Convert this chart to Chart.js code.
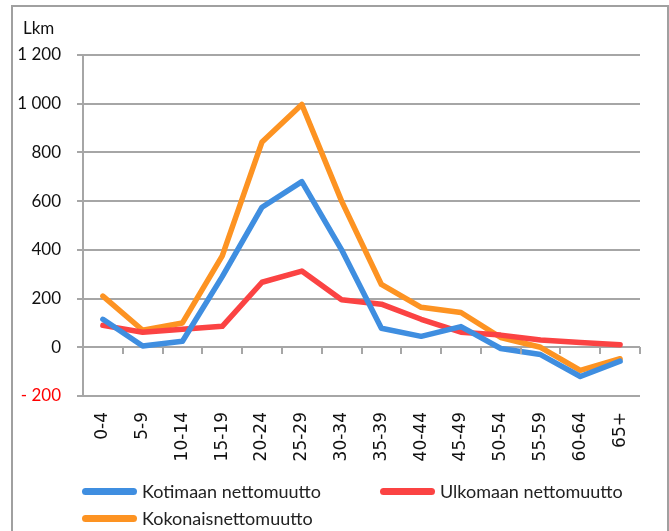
<!DOCTYPE html>
<html>
<head>
<meta charset="utf-8">
<script src="https://cdn.jsdelivr.net/npm/chart.js@4.4.1/dist/chart.umd.min.js"></script>
<style>
  html, body { margin: 0; padding: 0; background: #fff; }
  #wrap { position: relative; width: 669px; height: 531px; overflow: hidden; font-family: Lato, sans-serif; }
  #frame { position: absolute; left: 11px; top: 5px; width: 654px; height: 560px; border: 2px solid #a0a0a0; pointer-events: none; }
  #unit { position: absolute; left: 23px; top: 17px; font-size: 17px; color: #111; }
  .leg { position: absolute; font-size: 18px; color: #222; white-space: nowrap; }
  .leg span.sw { position: absolute; left: 0; top: 8px; width: 55px; height: 7px; border-radius: 4px; }
  .leg span.tx { position: absolute; left: 60px; top: 0; line-height: 22px; }
</style>
</head>
<body>
<div id="wrap">
  <canvas id="chart"></canvas>
  <div id="frame"></div>
  <div id="unit">Lkm</div>
</div>
<script>
// age groups on the x axis
const AGE_GROUPS = ['0-4', '5-9', '10-14', '15-19', '20-24', '25-29', '30-34',
  '35-39', '40-44', '45-49', '50-54', '55-59', '60-64', '65+'];

// net migration by age group (persons)
const KOTIMAAN = [115, 5, 25, 290, 575, 680, 400, 78, 45, 85, -5, -30, -120, -57];
const ULKOMAAN = [90, 62, 74, 86, 267, 313, 195, 177, 115, 62, 50, 30, 20, 10];
const KOKONAIS = [210, 70, 100, 375, 843, 997, 600, 258, 164, 143, 40, 0, -95, -47];

const Y_MIN = -200;
const Y_MAX = 1200;
const Y_STEP = 200;

const GRID = '#a6a6a6';

function fmtTick(v) {
  var s = String(Math.abs(v)).replace(/\B(?=(\d{3})+(?!\d))/g, ' ');
  return v < 0 ? '- ' + s : s;
}

// tick marks on the zero line, between categories (excel style)
const zeroTicks = {
  id: 'zeroTicks',
  afterDatasetsDraw: function (chart) {
    var x = chart.scales.x, y = chart.scales.y;
    var y0 = Math.round(y.getPixelForValue(0));
    var n = x.ticks.length;
    var half = (x.getPixelForTick(1) - x.getPixelForTick(0)) / 2;
    var ctx = chart.ctx;
    ctx.save();
    ctx.strokeStyle = GRID;
    ctx.lineWidth = 2;
    ctx.beginPath();
    for (var i = 0; i <= n; i++) {
      var px = Math.round(x.getPixelForTick(Math.min(i, n - 1)) + (i < n ? -half : half));
      ctx.moveTo(px, y0);
      ctx.lineTo(px, y0 + 7);
    }
    ctx.stroke();
    ctx.restore();
  },
};

function series(label, data, color) {
  return {
    label: label,
    data: data,
    borderColor: color,
    backgroundColor: color,
    borderWidth: 5.5,
    pointRadius: 0,
    tension: 0,
    borderJoinStyle: 'round',
    borderCapStyle: 'round',
  };
}

const chart = new Chart(document.getElementById('chart'), {
  type: 'line',
  data: {
    labels: AGE_GROUPS,
    datasets: [
      series('Kotimaan nettomuutto', KOTIMAAN, '#3f8ee0'),
      series('Ulkomaan nettomuutto', ULKOMAAN, '#fb4343'),
      series('Kokonaisnettomuutto', KOKONAIS, '#fd9322'),
    ],
  },
  options: {
    responsive: true,
    maintainAspectRatio: false,
    animation: false,
    layout: { padding: { left: 12, top: 55, right: 29, bottom: 65 } },
    plugins: { legend: { display: false }, tooltip: { enabled: false } },
    scales: {
      x: {
        offset: true,
        grid: { display: false },
        border: { display: false },
        afterFit: function (scale) { scale.height = 70; },
        ticks: {
          minRotation: 90, maxRotation: 90, padding: 8, autoSkip: false,
          color: '#111', font: { family: 'DejaVu Sans', size: 17 },
        },
      },
      y: {
        min: Y_MIN, max: Y_MAX,
        afterFit: function (scale) { scale.width = 71; },
        grid: { color: GRID, lineWidth: 2, tickLength: 6 },
        border: { color: GRID, width: 2 },
        ticks: {
          stepSize: Y_STEP, padding: 16,
          font: { family: 'Lato', size: 17 },
          color: function (c) { return c.tick.value < 0 ? '#ff0000' : '#111'; },
          callback: fmtTick,
        },
      },
    },
  },
  plugins: [zeroTicks],
});

// html legend, built from the datasets
const LEGEND_POS = [[82, 480], [380, 480], [82, 507]];
chart.data.datasets.forEach(function (ds, i) {
  var el = document.createElement('div');
  el.className = 'leg';
  el.style.left = LEGEND_POS[i][0] + 'px';
  el.style.top = LEGEND_POS[i][1] + 'px';
  el.innerHTML = '<span class="sw" style="background:' + ds.borderColor + '"></span><span class="tx"></span>';
  el.querySelector('.tx').textContent = ds.label;
  document.getElementById('wrap').appendChild(el);
});
</script>
</body>
</html>
